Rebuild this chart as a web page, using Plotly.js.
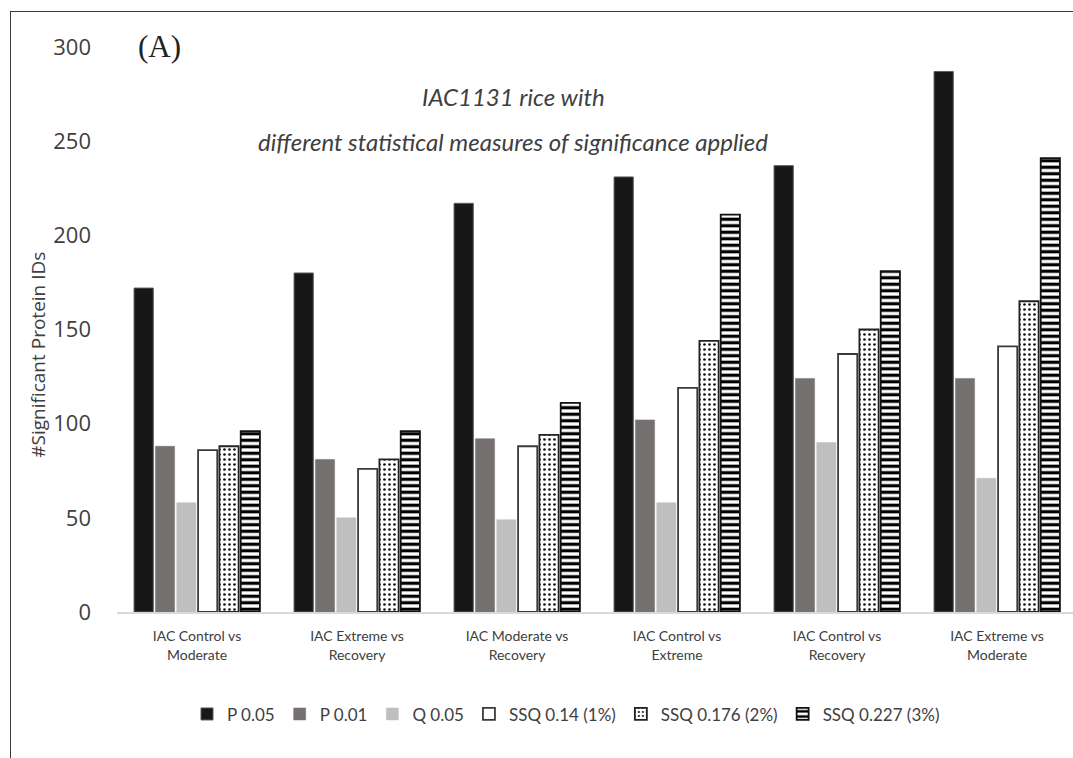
<!DOCTYPE html>
<html><head>
<meta charset="utf-8">
<script src="https://cdn.plot.ly/plotly-3.0.1.min.js"></script>
<style>
body{margin:0;background:#fff;}
#frame{position:absolute;left:10px;top:11px;width:1063px;height:747px;border-top:1.5px solid #3a3a3a;border-left:1.5px solid #3a3a3a;pointer-events:none;box-sizing:border-box;}
</style>
</head><body>
<div id="chart" style="width:1073px;height:758px;"></div>
<div id="frame"></div>
<script>
const categories = ["IAC Control vs<br>Moderate","IAC Extreme vs<br>Recovery","IAC Moderate vs<br>Recovery","IAC Control vs<br>Extreme","IAC Control vs<br>Recovery","IAC Extreme vs<br>Moderate"];
const seriesNames = ["P 0.05","P 0.01","Q 0.05","SSQ 0.14 (1%)","SSQ 0.176 (2%)","SSQ 0.227 (3%)"];
const p005 = [172,180,217,231,237,287];
const p001 = [88,81,92,102,124,124];
const q005 = [58,50,49,58,90,71];
const ssq1 = [86,76,88,119,137,141];
const ssq2 = [88,81,94,144,150,165];
const ssq3 = [96,96,111,211,181,241];
const titleLine1 = "IAC1131 rice with";
const titleLine2 = "different statistical measures of significance applied";
const yTitle = "#Significant Protein IDs";
const panelLabel = "(A)";

const W = 1073, H = 758;
const plotL = 117, plotR = 1073, plotT = 47, plotB = 612.5;
const px = x => (x - plotL) / (plotR - plotL);
const py = y => (plotB - y) / (plotB - plotT);

const values = [p005,p001,q005,ssq1,ssq2,ssq3];
const styles = [
  {color:'#171717', line:{color:'#5a5a5a',width:1}},
  {color:'#767171', line:{color:'#767171',width:0.5}},
  {color:'#bfbfbf', line:{color:'#bfbfbf',width:0.5}},
  {color:'#ffffff', line:{color:'#3a3a3a',width:1.8}},
  {color:'#ffffff', line:{color:'#222',width:1.8}, pattern:{shape:'.', fgcolor:'#111', bgcolor:'#fff', size:5, solidity:0.22}},
  {color:'#ffffff', line:{color:'#111',width:1.8}, pattern:{shape:'-', fgcolor:'#000', bgcolor:'#fff', size:6.5, solidity:0.5}}
];
const traces = values.map((v,i)=>({
  type:'bar', x:categories, y:v, name:seriesNames[i], marker:styles[i], hoverinfo:'skip'
}));

const font = 'Lato, "Open Sans", sans-serif';
const layout = {
  width:W, height:H,
  margin:{l:plotL, r:W-plotR, t:plotT, b:H-plotB, pad:0},
  paper_bgcolor:'#fff', plot_bgcolor:'#fff',
  barmode:'group', bargap:0.2, bargroupgap:0.1,
  showlegend:true,
  legend:{orientation:'h', x:px(566), xanchor:'center', y:py(715), yanchor:'middle',
    font:{family:font, size:17, color:'#404040'}, itemwidth:30, traceorder:'normal'},
  xaxis:{type:'category', range:[-0.5, 5.475], showline:true, linecolor:'#d9d9d9', linewidth:1.5,
    ticks:'', showgrid:false, zeroline:false, automargin:false, ticklabelstandoff:11,
    tickfont:{family:font, size:14, color:'#404040'}},
  yaxis:{range:[0,300], dtick:50, showgrid:false, zeroline:false, showline:false, ticks:'',
    automargin:false, ticklabelstandoff:25,
    tickfont:{family:'"Open Sans", sans-serif', size:22, color:'#404040'}},
  annotations:[
    {text:titleLine1, xref:'paper', yref:'paper', x:px(513), y:py(97), xanchor:'center', yanchor:'middle',
      showarrow:false, font:{family:font, size:24, color:'#404040', style:'italic'}},
    {text:titleLine2, xref:'paper', yref:'paper', x:px(513), y:py(142), xanchor:'center', yanchor:'middle',
      showarrow:false, font:{family:font, size:24, color:'#404040', style:'italic'}},
    {text:panelLabel, xref:'paper', yref:'paper', x:px(159), y:py(46), xanchor:'center', yanchor:'middle',
      showarrow:false, font:{family:'"Liberation Serif", serif', size:31, color:'#222'}},
    {text:yTitle, xref:'paper', yref:'paper', x:px(38), y:py(355), xanchor:'center', yanchor:'middle', textangle:-90,
      showarrow:false, font:{family:'"Open Sans", sans-serif', size:19, color:'#404040'}}
  ]
};
Plotly.newPlot('chart', traces, layout, {displayModeBar:false, staticPlot:true});
</script>
</body></html>
